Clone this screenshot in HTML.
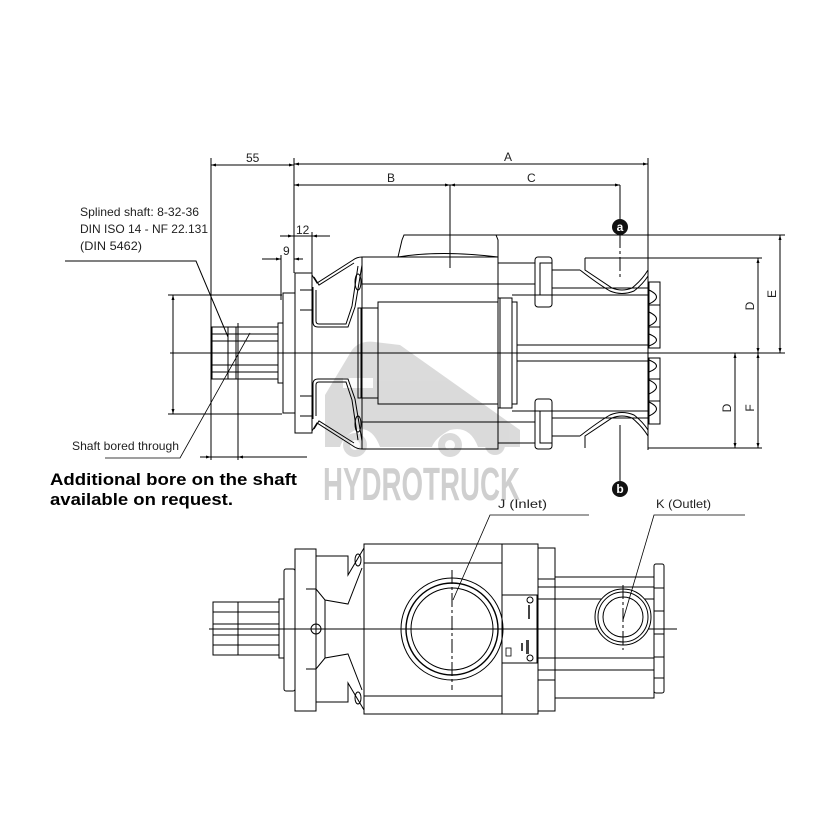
<!DOCTYPE html>
<html><head><meta charset="utf-8"><style>
html,body{margin:0;padding:0;background:#fff}
svg{display:block}
text{font-family:"Liberation Sans",Arial,sans-serif;fill:#222}
</style></head><body>
<svg width="840" height="840" viewBox="0 0 840 840" xmlns="http://www.w3.org/2000/svg">
<defs>
<marker id="ar" viewBox="0 0 10 10" refX="10" refY="5" markerWidth="7" markerHeight="5" orient="auto-start-reverse"><path d="M0,2 L10,5 L0,8 z" fill="#000"/></marker>
</defs>
<!-- watermark -->
<g fill="#d2d2d2" opacity="0.8">
<path d="M325,395 L352,350 Q360,340 375,342 L400,345 L520,430 L520,447 L478,447 Q470,425 450,430 Q435,438 432,447 L380,447 Q372,425 355,430 Q343,437 340,447 L325,447 Z"/>
<circle cx="355" cy="445" r="12"/><circle cx="450" cy="445" r="12"/><circle cx="495" cy="445" r="10"/>
</g>
<g fill="#fff" opacity="0.9"><rect x="343" y="378" width="30" height="10"/><circle cx="355" cy="445" r="5"/><circle cx="450" cy="445" r="5"/></g>
<text x="323" y="500" font-size="46" textLength="197" lengthAdjust="spacingAndGlyphs" style="fill:#cfcfcf;font-family:'Liberation Sans Narrow','Liberation Sans',sans-serif;font-weight:bold">HYDROTRUCK</text>

<g stroke="#000" stroke-width="1" fill="none">
<!-- dimensions top -->
<line x1="211" y1="165" x2="294" y2="165" marker-start="url(#ar)" marker-end="url(#ar)"/>
<line x1="294" y1="164" x2="648" y2="164" marker-start="url(#ar)" marker-end="url(#ar)"/>
<line x1="294" y1="185" x2="450" y2="185" marker-start="url(#ar)" marker-end="url(#ar)"/>
<line x1="450" y1="185" x2="620" y2="185" marker-start="url(#ar)" marker-end="url(#ar)"/>
<line x1="211" y1="158" x2="211" y2="460"/>
<line x1="294" y1="158" x2="294" y2="273"/>
<line x1="648" y1="158" x2="648" y2="450"/>
<line x1="450" y1="185" x2="450" y2="268"/>
<line x1="620" y1="185" x2="620" y2="220"/>
<line x1="620" y1="234" x2="620" y2="280" stroke-dasharray="14,3,3,3"/>
<!-- 12 / 9 -->
<line x1="280" y1="236" x2="293" y2="236" marker-end="url(#ar)"/>
<line x1="330" y1="236" x2="312" y2="236" marker-end="url(#ar)"/>
<line x1="293" y1="236" x2="312" y2="236"/>
<line x1="312" y1="232" x2="312" y2="274"/>
<line x1="262" y1="259" x2="281" y2="259" marker-end="url(#ar)"/>
<line x1="303" y1="259" x2="294" y2="259" marker-end="url(#ar)"/>
<line x1="281" y1="255" x2="281" y2="300"/>
<!-- right dims -->
<line x1="404" y1="235" x2="785" y2="235"/>
<line x1="585" y1="258" x2="762" y2="258"/>
<line x1="170" y1="353" x2="785" y2="353" stroke-width="0.9"/>
<line x1="648" y1="448" x2="762" y2="448"/>
<line x1="780" y1="235" x2="780" y2="353" marker-start="url(#ar)" marker-end="url(#ar)"/>
<line x1="758" y1="258" x2="758" y2="353" marker-start="url(#ar)" marker-end="url(#ar)"/>
<line x1="758" y1="353" x2="758" y2="448" marker-start="url(#ar)" marker-end="url(#ar)"/>
<line x1="735" y1="353" x2="735" y2="448" marker-start="url(#ar)" marker-end="url(#ar)"/>
<line x1="620" y1="425" x2="620" y2="482"/>
<!-- left dims -->
<line x1="168" y1="295" x2="282" y2="295"/>
<line x1="168" y1="414" x2="282" y2="414"/>
<line x1="173" y1="295" x2="173" y2="414" marker-start="url(#ar)" marker-end="url(#ar)"/>
<line x1="238" y1="323" x2="238" y2="460"/>
<line x1="200" y1="457" x2="211" y2="457" marker-end="url(#ar)"/>
<line x1="250" y1="457" x2="238" y2="457" marker-end="url(#ar)"/>
<line x1="211" y1="457" x2="307" y2="457"/>
<!-- leaders -->
<polyline points="65,261 196,261 228,337"/>
<polyline points="105,458 180,458 250,333" stroke-width="0.8"/>

<!-- TOP VIEW upper half -->
<g id="half">
<rect x="212" y="327" width="66" height="26"/>
<line x1="212" y1="334" x2="278" y2="334"/>
<line x1="212" y1="341" x2="278" y2="341"/>
<line x1="228" y1="327" x2="228" y2="353"/>
<line x1="236" y1="327" x2="236" y2="353"/>
<rect x="278" y="323" width="5" height="30"/>
<rect x="283" y="293" width="12" height="60"/>
<rect x="295" y="273" width="17" height="80"/>
<line x1="300" y1="290" x2="312" y2="290"/><line x1="300" y1="310" x2="312" y2="310"/>
<path d="M312,275 L317,283 L353,260 Q357,257 362,257"/>
<path d="M314,277 L319,285 L354,263"/>
<path d="M313,287 L313,322 Q313,327 318,327 L348,327 L355,307 L362,265"/>
<path d="M316,290 L316,321 Q316,324 319,324 L346,324 L352,306 L358,266"/>
<ellipse cx="358" cy="282" rx="3" ry="8"/>
<rect x="362" y="257" width="136" height="96"/>
<line x1="362" y1="284" x2="535" y2="284"/>
<rect x="378" y="302" width="120" height="51"/>
<rect x="358" y="308" width="20" height="45"/>
<line x1="361" y1="308" x2="361" y2="353"/>
<rect x="498" y="298" width="14" height="55"/>
<rect x="512" y="302" width="5" height="51"/>
<line x1="500" y1="298" x2="500" y2="353"/>
<line x1="498" y1="263" x2="535" y2="263"/>
<rect x="535" y="257" width="17" height="50" rx="3"/>
<rect x="540" y="263" width="12" height="32"/>
<line x1="552" y1="270" x2="580" y2="270"/>
<line x1="552" y1="288" x2="648" y2="288"/>
<line x1="512" y1="295" x2="648" y2="295"/>
<line x1="517" y1="345" x2="648" y2="345"/>
<path d="M585,258 L585,270 Q600,280 612,288 Q622,292 632,288 Q642,280 648,270"/>
<path d="M580,270 Q598,284 610,291 Q622,296 634,291 Q643,284 648,276"/>
<rect x="649" y="282" width="11" height="66"/>
<path d="M649,304 Q664,297 649,290 M649,326 Q664,319 649,312 M649,346 Q664,340 649,334"/>
<line x1="649" y1="305" x2="660" y2="305"/><line x1="649" y1="327" x2="660" y2="327"/>
</g>
<use href="#half" transform="translate(0,706) scale(1,-1)"/>
<!-- boss -->
<path d="M498,257 L498,240 L496,235 L404,235 L402,240 L398,257 Q440,250 498,257"/>
<line x1="517" y1="347" x2="517" y2="359"/>

<!-- BOTTOM VIEW -->
<line x1="209" y1="629" x2="677" y2="629" stroke-width="0.9"/>
<rect x="213" y="602" width="66" height="53"/>
<line x1="213" y1="612" x2="279" y2="612"/><line x1="213" y1="624" x2="279" y2="624"/>
<line x1="213" y1="635" x2="279" y2="635"/><line x1="213" y1="645" x2="279" y2="645"/>
<line x1="238" y1="602" x2="238" y2="655"/>
<rect x="279" y="599" width="5" height="59"/>
<rect x="284" y="569" width="11" height="122" rx="2"/>
<rect x="295" y="549" width="21" height="162"/>
<path d="M316,556 L348,556 L348,575 L364,548"/>
<path d="M316,702 L348,702 L348,683 L364,710"/>
<path d="M306,589 L316,589 L325,600 L348,604 L362,568"/>
<path d="M306,669 L316,669 L325,658 L348,654 L362,690"/>
<line x1="316" y1="589" x2="316" y2="669"/>
<line x1="325" y1="600" x2="325" y2="658"/>
<circle cx="316" cy="629" r="5"/>
<ellipse cx="358" cy="560" rx="3" ry="6"/><ellipse cx="358" cy="698" rx="3" ry="6"/>
<rect x="364" y="544" width="174" height="170"/>
<line x1="364" y1="563" x2="502" y2="563"/>
<line x1="364" y1="696" x2="502" y2="696"/>
<line x1="502" y1="544" x2="502" y2="714"/>
<circle cx="452" cy="629" r="51"/>
<circle cx="452" cy="629" r="46" stroke-width="1.4"/>
<circle cx="452" cy="629" r="41"/>
<line x1="452" y1="570" x2="452" y2="690" stroke-dasharray="14,3,3,3"/>
<rect x="502" y="595" width="35" height="68"/>
<circle cx="530" cy="600" r="3"/><circle cx="530" cy="658" r="3"/>
<rect x="538" y="548" width="17" height="31"/>
<rect x="538" y="680" width="17" height="31"/>
<rect x="555" y="577" width="99" height="121"/>
<line x1="538" y1="587" x2="654" y2="587"/><line x1="538" y1="599" x2="654" y2="599"/>
<line x1="538" y1="658" x2="654" y2="658"/><line x1="538" y1="670" x2="654" y2="670"/>
<circle cx="623" cy="617" r="28" fill="#fff"/>
<circle cx="623" cy="617" r="25"/>
<circle cx="623" cy="617" r="20"/>
<line x1="623" y1="585" x2="623" y2="650" stroke-dasharray="14,3,3,3"/>
<rect x="654" y="564" width="10" height="129" rx="2"/>
<line x1="654" y1="588" x2="664" y2="588"/><line x1="654" y1="611" x2="664" y2="611"/>
<line x1="654" y1="634" x2="664" y2="634"/><line x1="654" y1="657" x2="664" y2="657"/>
<line x1="654" y1="678" x2="664" y2="678"/>
<polyline points="453,600 490,515 589,515" stroke-width="0.8"/>
<polyline points="623,620 654,515 745,515" stroke-width="0.8"/>
</g>
<g fill="#444"><rect x="528" y="605" width="2" height="14"/><rect x="526" y="640" width="3" height="14"/><rect x="521" y="643" width="2" height="8"/><rect x="506" y="648" width="5" height="8" fill="none" stroke="#000" stroke-width="0.8"/></g>

<!-- circles a/b -->
<circle cx="620" cy="227" r="8" fill="#111"/>
<text x="620" y="231" font-size="12" text-anchor="middle" style="fill:#fff;font-weight:bold">a</text>
<circle cx="620" cy="489" r="8" fill="#111"/>
<text x="620" y="493" font-size="12" text-anchor="middle" style="fill:#fff;font-weight:bold">b</text>

<!-- labels -->
<g font-size="12">
<text x="246" y="162">55</text>
<text x="504" y="161">A</text>
<text x="387" y="182">B</text>
<text x="527" y="182">C</text>
<text x="296" y="234">12</text>
<text x="283" y="255">9</text>
<text transform="translate(776,294) rotate(-90)" text-anchor="middle">E</text>
<text transform="translate(754,306) rotate(-90)" text-anchor="middle">D</text>
<text transform="translate(731,408) rotate(-90)" text-anchor="middle">D</text>
<text transform="translate(754,408) rotate(-90)" text-anchor="middle">F</text>
<text x="80" y="216" textLength="119" lengthAdjust="spacingAndGlyphs">Splined shaft: 8-32-36</text>
<text x="80" y="233" textLength="128" lengthAdjust="spacingAndGlyphs">DIN ISO 14 - NF 22.131</text>
<text x="80" y="250" textLength="62" lengthAdjust="spacingAndGlyphs">(DIN 5462)</text>
<text x="72" y="450" textLength="107" lengthAdjust="spacingAndGlyphs">Shaft bored through</text>
<text x="498" y="508" textLength="49" lengthAdjust="spacingAndGlyphs">J (Inlet)</text>
<text x="656" y="508" textLength="55" lengthAdjust="spacingAndGlyphs">K (Outlet)</text>
</g>
<text x="50" y="485" font-size="17" font-weight="bold" textLength="247" lengthAdjust="spacingAndGlyphs" style="fill:#000">Additional bore on the shaft</text>
<text x="50" y="505" font-size="17" font-weight="bold" textLength="183" lengthAdjust="spacingAndGlyphs" style="fill:#000">available on request.</text>
</svg>
</body></html>
